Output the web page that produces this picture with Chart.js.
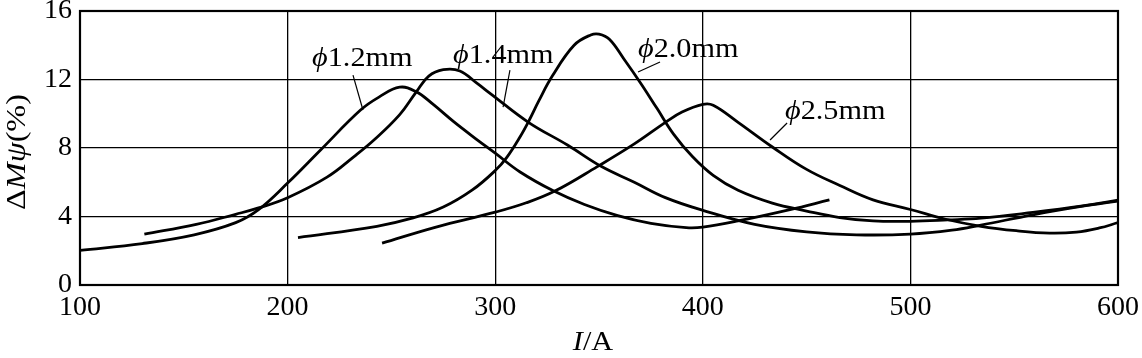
<!DOCTYPE html>
<html><head><meta charset="utf-8">
<script src="https://cdn.jsdelivr.net/npm/chart.js@4.4.0/dist/chart.umd.min.js"></script>
<style>html,body{margin:0;padding:0;background:#fff;}canvas{display:block;}</style>
</head><body>
<canvas id="c" width="1142" height="358"></canvas>
<script>
// ---- data ----
const xTicks = [100, 200, 300, 400, 500, 600];
const yTicks = [0, 4, 8, 12, 16];
const seriesNames = ['1.2mm', '1.4mm', '2.0mm', '2.5mm'];

const i12 = [100,130,155,175,186,200,216,235,244,254,262,270,280,291,300,312,328,343,359,375,392,400,417,442,461];
const v12 = [2.02,2.42,2.93,3.64,4.4,5.95,7.9,10.2,10.97,11.55,11.28,10.56,9.54,8.51,7.7,6.6,5.5,4.7,4.05,3.6,3.35,3.38,3.74,4.4,4.97];

const i14 = [131,156,175,186,200,219,232,242,254,262,268,275,283,291,298,316,335,351,367,382,400,425,450,474,500,520,534,559,583,600];
const v14 = [2.97,3.54,4.13,4.5,5.1,6.3,7.5,8.51,9.95,11.28,12.2,12.57,12.5,11.8,11.15,9.5,8.16,6.93,6.0,5.1,4.36,3.54,3.1,2.93,2.97,3.2,3.5,4.1,4.6,4.9];

const i20 = [205,243,260,275,289,300,305.5,312,316.5,321,327.5,338,346,350,355,362,370,378,386,395,405,417,433.5,450,466,482,500,518,534,559,583,600];
const v20 = [2.77,3.43,3.9,4.55,5.55,6.68,7.44,8.66,9.65,10.75,12.2,14.0,14.6,14.65,14.35,13.2,11.8,10.3,8.8,7.5,6.4,5.53,4.78,4.32,3.94,3.74,3.72,3.8,3.9,4.24,4.62,4.95];

const i25 = [245.5,271.5,300,315,329,349,367,382,390,400,405,417,433.5,450,466,482,500,517,534,551,567,580,591,600];
const v25 = [2.44,3.38,4.25,4.8,5.5,6.9,8.24,9.5,10.1,10.55,10.5,9.5,8.06,6.75,5.81,4.97,4.41,3.84,3.43,3.17,3.03,3.09,3.33,3.64];

// label anchors (data coordinates): text start, leader line from -> to
const labelTextY = [12.79, 12.96, 13.31, 9.69];
const labelTextX = [211.8, 279.7, 368.8, 439.6];
const leaderX1 = [231.5, 307.1, 379.4, 440.6];
const leaderY1 = [12.26, 12.55, 13.02, 9.46];
const leaderX2 = [236.3, 303.8, 368.8, 432.4];
const leaderY2 = [10.22, 10.39, 12.44, 8.47];

const SERIF = '"Liberation Serif","Times New Roman",serif';
const PHI = '\u03D5';

function pts(xs, ys) { return xs.map((x, k) => ({ x: x, y: ys[k] })); }

const allI = [i12, i14, i20, i25];
const allV = [v12, v14, v20, v25];

const datasets = seriesNames.map((n, k) => ({
  label: PHI + n,
  data: pts(allI[k], allV[k]),
  borderColor: '#000',
  borderWidth: 2.8,
  pointRadius: 0,
  fill: false,
  tension: 0.4
}));

function drawMixed(ctx, parts, x, y, size, stretch) {
  ctx.save();
  ctx.translate(x, y);
  ctx.scale(stretch, 1);
  let cx = 0;
  for (const [t, it] of parts) {
    ctx.font = (it ? 'italic ' : '') + size + 'px ' + SERIF;
    ctx.fillText(t, cx, 0);
    cx += ctx.measureText(t).width;
  }
  ctx.restore();
}
function mixedWidth(ctx, parts, size, stretch) {
  let w = 0;
  ctx.save();
  for (const [t, it] of parts) {
    ctx.font = (it ? 'italic ' : '') + size + 'px ' + SERIF;
    w += ctx.measureText(t).width;
  }
  ctx.restore();
  return w * stretch;
}

const deco = {
  id: 'deco',
  afterDraw(chart) {
    const ctx = chart.ctx;
    const a = chart.chartArea;
    const xs = chart.scales.x, ys = chart.scales.y;
    ctx.save();
    ctx.strokeStyle = '#000';
    ctx.lineWidth = 2.2;
    ctx.strokeRect(a.left, a.top, a.right - a.left, a.bottom - a.top);
    ctx.fillStyle = '#000';
    ctx.textBaseline = 'alphabetic';
    ctx.textAlign = 'left';
    seriesNames.forEach((n, k) => {
      drawMixed(ctx, [[PHI, true], [n, false]],
        xs.getPixelForValue(labelTextX[k]), ys.getPixelForValue(labelTextY[k]), 28, 1.08);
      ctx.beginPath();
      ctx.lineWidth = 1.2;
      ctx.moveTo(xs.getPixelForValue(leaderX1[k]), ys.getPixelForValue(leaderY1[k]));
      ctx.lineTo(xs.getPixelForValue(leaderX2[k]), ys.getPixelForValue(leaderY2[k]));
      ctx.stroke();
    });
    const xt = [['I', true], ['/A', false]];
    const wx = mixedWidth(ctx, xt, 28, 1.08);
    drawMixed(ctx, xt, (a.left + a.right) / 2 - 6 - wx / 2, chart.height - 8, 28, 1.08);
    const yt = [['\u0394', false], ['M', true], ['\u03C8', true], ['(%)', false]];
    const wy = mixedWidth(ctx, yt, 28, 1.15);
    ctx.save();
    ctx.translate(25, (a.top + a.bottom) / 2 + 4 + wy / 2);
    ctx.rotate(-Math.PI / 2);
    drawMixed(ctx, yt, 0, 0, 28, 1.15);
    ctx.restore();
    ctx.restore();
  }
};

new Chart(document.getElementById('c'), {
  type: 'line',
  data: { datasets },
  plugins: [deco],
  options: {
    responsive: false,
    animation: false,
    events: [],
    layout: { padding: { left: 0, right: 24, top: 11, bottom: 0 } },
    plugins: { legend: { display: false }, tooltip: { enabled: false } },
    scales: {
      x: {
        type: 'linear', min: 100, max: 600,
        afterBuildTicks: s => { s.ticks = xTicks.map(v => ({ value: v })); },
        afterFit: s => { s.height = 73; s.paddingLeft = 0; s.paddingRight = 0; },
        grid: { color: '#000', lineWidth: 1.3, drawTicks: false },
        border: { display: false },
        ticks: { color: '#000', font: { family: SERIF, size: 28 }, padding: 6, maxRotation: 0 }
      },
      y: {
        min: 0, max: 16,
        afterBuildTicks: s => { s.ticks = yTicks.map(v => ({ value: v })); },
        afterFit: s => { s.width = 80; s.paddingTop = 0; s.paddingBottom = 0; },
        grid: { color: '#000', lineWidth: 1.3, drawTicks: false },
        border: { display: false },
        ticks: { color: '#000', font: { family: SERIF, size: 28 }, padding: 8 }
      }
    }
  }
});
</script>
</body></html>
